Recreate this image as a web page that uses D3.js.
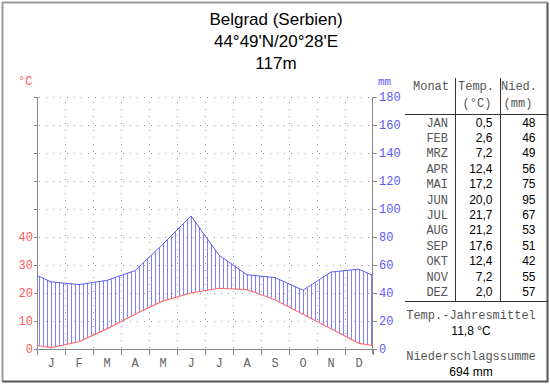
<!DOCTYPE html>
<html><head><meta charset="utf-8">
<script src="https://cdn.jsdelivr.net/npm/d3@7/dist/d3.min.js"></script>
<style>body{margin:0;background:#fff}svg{display:block}</style>
</head><body><svg id="c" width="550" height="384"></svg>
<script>
const months = ["JAN","FEB","MRZ","APR","MAI","JUN","JUL","AUG","SEP","OKT","NOV","DEZ"];
const monthLetters = ["J","F","M","A","M","J","J","A","S","O","N","D"];
const temps = [0.5,2.6,7.2,12.4,17.2,20.0,21.7,21.2,17.6,12.4,7.2,2.0];
const precip = [48,46,49,56,75,95,67,53,51,42,55,57];
const tempTickValues = [0,10,20,30,40,50,60,70,80,90];
const tempLabels = [0,10,20,30,40];
const precipTicks = [0,20,40,60,80,100,120,140,160,180];
const titleLines = ["Belgrad (Serbien)","44°49'N/20°28'E","117m"];
const annualTemp = "11,8 °C";
const annualPrecip = "694 mm";

const svg = d3.select("#c");
const mono = "'Liberation Mono', 'Courier New', monospace";
const sans = "'Liberation Sans', Arial, sans-serif";
const fmt = v => v.toFixed(1).replace(".", ",");

const x = d3.scaleLinear().domain([0,12]).range([37,373]);
const y = d3.scaleLinear().domain([0,180]).range([349,97]);
const yT = d3.scaleLinear().domain([0,90]).range([349,97]);

// frame
svg.append("path").attr("d","M2.5,381.5V2.5H547.5").attr("fill","none").style("stroke","#999").attr("stroke-width",2);
svg.append("path").attr("d","M2.5,381.5H547.5V2.5").attr("fill","none").style("stroke","#555").attr("stroke-width",2);

// title
titleLines.forEach((t,i)=>{
  svg.append("text").attr("x",276).attr("y",24.5+i*22.3).attr("text-anchor","middle")
    .attr("font-family",sans).attr("font-size",17).attr("fill","#000").text(t);
});

// grid
const grid = svg.append("g").attr("shape-rendering","crispEdges");
precipTicks.filter(v=>v>0).forEach(v=>{
  grid.append("line").attr("x1",x(0)+2).attr("x2",x(12)).attr("y1",Math.round(y(v))+0.5).attr("y2",Math.round(y(v))+0.5)
   .style("stroke","#999").attr("stroke-dasharray","1,6");
});
d3.range(1,12).forEach(m=>{
  grid.append("line").attr("x1",Math.round(x(m))+0.5).attr("x2",Math.round(x(m))+0.5).attr("y1",y(180)+5).attr("y2",y(0))
   .style("stroke","#999").attr("stroke-dasharray","1,6");
});

// interpolation helpers
function extended(arr){
  const edge = (arr[11]+arr[0])/2;
  return [[0,edge]].concat(arr.map((v,i)=>[i+0.5,v]), [[12,edge]]);
}
const pExt = extended(precip);
const tExt = extended(temps);
function interp(pts, m){
  for(let i=0;i<pts.length-1;i++){
    if(m>=pts[i][0] && m<=pts[i+1][0]){
      const f=(m-pts[i][0])/(pts[i+1][0]-pts[i][0]);
      return pts[i][1]+f*(pts[i+1][1]-pts[i][1]);
    }
  }
  return pts[pts.length-1][1];
}

// hatching
const hatchPos = d3.range(1/14, 12, 1/7);
svg.append("g").selectAll("line").data(hatchPos).enter().append("line")
  .attr("x1",m=>Math.round(x(m))+0.5).attr("x2",m=>Math.round(x(m))+0.5)
  .attr("y1",m=>yT(interp(tExt,m))).attr("y2",m=>y(interp(pExt,m)))
  .attr("stroke","#7f7fff").attr("stroke-width",1);

// lines
svg.append("path").attr("d",d3.line().x(d=>x(d[0])).y(d=>y(d[1]))(pExt)).attr("fill","none").style("stroke","#5c5cff").attr("stroke-width",1);
svg.append("path").attr("d",d3.line().x(d=>x(d[0])).y(d=>yT(d[1]))(tExt)).attr("fill","none").style("stroke","#ff6f6f").attr("stroke-width",1.2);

// axes
const axG = svg.append("g").style("stroke","#888").attr("shape-rendering","crispEdges");
axG.append("line").attr("x1",37.5).attr("x2",37.5).attr("y1",y(180)).attr("y2",y(0)+5);
axG.append("line").attr("x1",372.5).attr("x2",372.5).attr("y1",y(180)).attr("y2",y(0)+5);
axG.append("line").attr("x1",37).attr("x2",373).attr("y1",349.5).attr("y2",349.5);
tempTickValues.forEach(v=>{
  axG.append("line").attr("x1",34).attr("x2",37).attr("y1",Math.round(yT(v))+0.5).attr("y2",Math.round(yT(v))+0.5);
});
precipTicks.forEach(v=>{
  axG.append("line").attr("x1",373).attr("x2",377).attr("y1",Math.round(y(v))+0.5).attr("y2",Math.round(y(v))+0.5);
});
d3.range(0,13).forEach(m=>{
  axG.append("line").attr("x1",Math.round(x(m))+0.5).attr("x2",Math.round(x(m))+0.5).attr("y1",349).attr("y2",355);
});

// axis labels
tempLabels.forEach(v=>{
  svg.append("text").attr("x",33).attr("y",yT(v)+4).attr("text-anchor","end")
   .attr("font-family",mono).attr("font-size",12).attr("fill","#ff5a5a").text(v);
});
precipTicks.forEach(v=>{
  svg.append("text").attr("x",379).attr("y",y(v)+4).attr("text-anchor","start")
   .attr("font-family",mono).attr("font-size",12).attr("fill","#5a5aff").text(v);
});
monthLetters.forEach((l,i)=>{
  svg.append("text").attr("x",x(i+0.5)).attr("y",367).attr("text-anchor","middle")
   .attr("font-family",mono).attr("font-size",12).attr("fill","#666").text(l);
});
svg.append("text").attr("x",18).attr("y",85).attr("font-family",mono).attr("font-size",12).attr("fill","#ff5a5a").text("°C");
svg.append("text").attr("x",378).attr("y",85).attr("font-family",mono).attr("font-size",11).attr("fill","#5a5aff").text("mm");

// table
const tb = svg.append("g");
const tl = (x1,x2,y1,y2)=>tb.append("line").attr("x1",x1).attr("x2",x2).attr("y1",y1).attr("y2",y2).style("stroke","#333").attr("shape-rendering","crispEdges");
tl(455.5,455.5,78,301); tl(500.5,500.5,78,301);
tl(405,548,114.5,114.5); tl(405,548,301.5,301.5);
const mtext = (t,xx,yy,anchor)=>tb.append("text").attr("x",xx).attr("y",yy).attr("text-anchor",anchor)
  .attr("font-family",mono).attr("font-size",12).attr("fill","#555").text(t);
const stext = (t,xx,yy,anchor)=>tb.append("text").attr("x",xx).attr("y",yy).attr("text-anchor",anchor)
  .attr("font-family",sans).attr("font-size",12).attr("fill","#000").text(t);
mtext("Monat",431,90,"middle");
mtext("Temp.",476,90,"middle");
mtext("(°C)",477,107,"middle");
mtext("Nied.",519,90,"middle");
mtext("(mm)",518,107,"middle");
months.forEach((m,i)=>{
  const yy = 126.5 + i*15.4;
  mtext(m,448,yy,"end");
  stext(fmt(temps[i]),492.5,yy,"end");
  stext(String(precip[i]),535.5,yy,"end");
});
mtext("Temp.-Jahresmittel",471,318.5,"middle");
stext(annualTemp,471,334.5,"middle");
mtext("Niederschlagssumme",471,359.5,"middle");
stext(annualPrecip,471,375.5,"middle");
</script></body></html>
